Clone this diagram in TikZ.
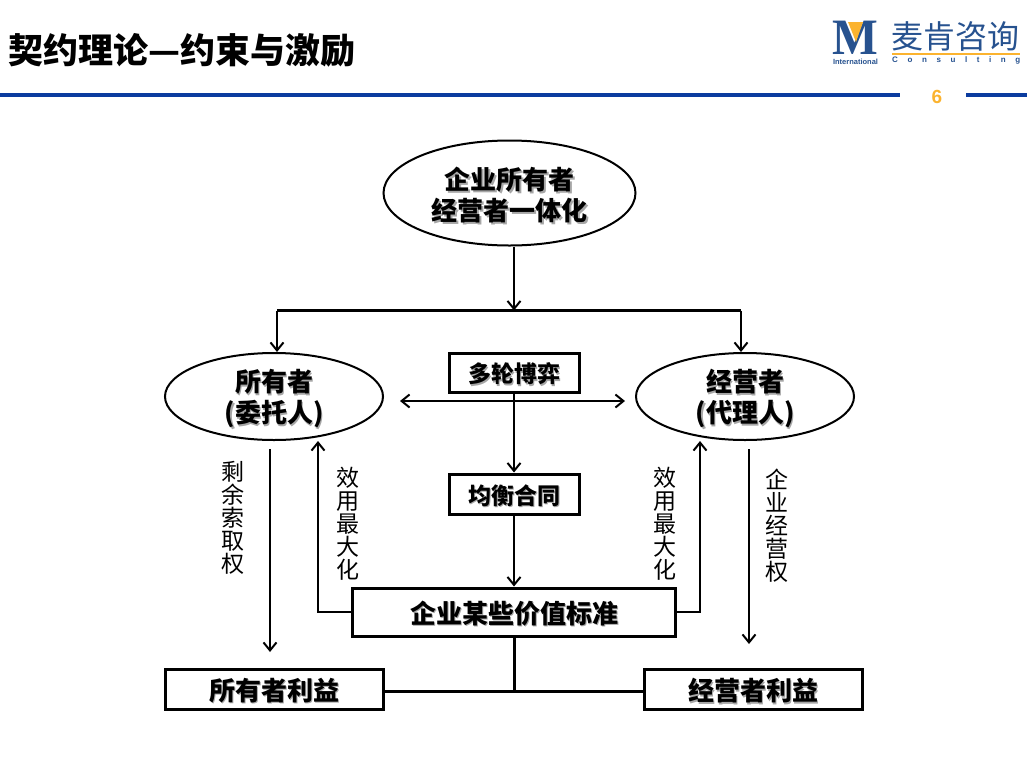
\documentclass[tikz,border=0pt]{standalone}
\usepackage{fontspec}
\usepackage{xcolor}
\setmainfont{Noto Sans CJK SC}
\newfontfamily\serifmark{Liberation Serif}
\newfontfamily\latinsans{Liberation Sans}
\usetikzlibrary{positioning}
\usetikzlibrary{calc}
\usetikzlibrary{arrows.meta}
\usetikzlibrary{shapes.geometric}

\definecolor{RuleBlue}{HTML}{0B3C9F}
\definecolor{LogoBlue}{HTML}{27528F}
\definecolor{LogoOrange}{HTML}{FBB32F}

\newcommand{\shadowed}[1]{\makebox[0pt][l]{\hspace{1.6pt}\raisebox{-1.6pt}{\textcolor{black!35}{#1}}}#1}
\newcommand{\ovalline}[1]{\vphantom{#1}\smash{\raisebox{-2pt}{\shadowed{#1}}}}
\newcommand{\boxline}[1]{\vphantom{#1}\smash{\raisebox{-1.5pt}{\shadowed{#1}}}}

\tikzset{
	ovalbox/.style={draw, ellipse, line width=2pt, inner sep=0pt, font=\fontsize{26}{31}\selectfont\bfseries, align=center},
	rectbox/.style={draw, rectangle, line width=3pt, inner sep=0pt, font=\fontsize{23}{27}\selectfont\bfseries},
	sidelabel/.style={inner sep=0pt, align=center, font=\fontsize{23}{23}\selectfont},
	link/.style={line width=2pt, -{Straight Barb[length=8pt,width=13pt]}},
	plainlink/.style={line width=3pt}
}

\begin{document}
\begin{tikzpicture}[x=1pt, y=-1pt]

\useasboundingbox (0,0) rectangle (1027,766);

% --- header

\node[
	anchor=west,
	inner sep=0pt,
	font=\fontsize{35}{40}\selectfont\bfseries
] (title) at (8,50) {契约理论—约束与激励};

\node[
	inner sep=0pt,
	text=LogoBlue,
	font=\fontsize{51}{51}\serifmark\bfseries
] (logoMark) at (855.5,38) {\scalebox{0.95}[1]{M}};

\fill[LogoOrange] (848,22) -- (863,22) -- (856,42) -- cycle;

\node[
	inner sep=0pt,
	text=LogoBlue,
	font=\fontsize{7.5}{8}\latinsans\bfseries
] (logoSmall) at (855.5,61.5) {International};

\node[
	anchor=west,
	inner sep=0pt,
	text=LogoBlue,
	font=\fontsize{32}{34}\selectfont
] (logoName) at (891,36) {麦肯咨询};

\node[
	anchor=west,
	inner sep=0pt,
	text=LogoBlue,
	font=\fontsize{8}{9}\latinsans\bfseries
] (logoWord) at (892,60.5) {\makebox[128pt][s]{C\hfill o\hfill n\hfill s\hfill u\hfill l\hfill t\hfill i\hfill n\hfill g}};

\draw[LogoOrange, line width=1.5pt] (892,54) -- (1020,54);

\node[
	inner sep=0pt,
	text=LogoOrange,
	font=\fontsize{19}{22}\latinsans\bfseries
] (pageNum) at (937,97) {6};

\draw[RuleBlue, line width=4pt] (0,95) -- (900,95);
\draw[RuleBlue, line width=4pt] (966,95) -- (1027,95);

% --- ovals and boxes

\node[
	ovalbox,
	minimum width=252pt,
	minimum height=105pt
] (wholeOwner) at (509.5,193) {\ovalline{企业所有者}\\\ovalline{经营者一体化}};

\node[
	rectbox,
	minimum width=130pt,
	minimum height=39pt,
	below=105pt of wholeOwner,
	xshift=4.5pt
] (gameBox) {\boxline{多轮博弈}};

\node[
	rectbox,
	minimum width=130pt,
	minimum height=40pt,
	below=79pt of gameBox
] (contractBox) {\boxline{均衡合同}};

\node[
	rectbox,
	minimum width=323pt,
	minimum height=48pt,
	below=71pt of contractBox,
	font=\fontsize{26}{31}\selectfont\bfseries
] (valueBox) {\boxline{企业某些价值标准}};

\node[
	ovalbox,
	minimum width=218pt,
	minimum height=87pt,
	left=63.5pt of gameBox,
	yshift=-24pt
] (owner) {\ovalline{所有者}\\\ovalline{(委托人)}};

\node[
	ovalbox,
	minimum width=218pt,
	minimum height=87pt,
	right=54.5pt of gameBox,
	yshift=-24pt
] (manager) {\ovalline{经营者}\\\ovalline{(代理人)}};

\node[
	rectbox,
	minimum width=218pt,
	minimum height=40pt,
	below=226.5pt of owner,
	font=\fontsize{26}{31}\selectfont\bfseries
] (ownerGain) {\boxline{所有者利益}};

\node[
	rectbox,
	minimum width=218pt,
	minimum height=40pt,
	below=226.5pt of manager,
	xshift=8pt,
	font=\fontsize{26}{31}\selectfont\bfseries
] (managerGain) {\boxline{经营者利益}};

% --- side labels

\node[sidelabel] (claimLabel) at (233,518) {剩\\余\\索\\取\\权};
\node[sidelabel] (utilLeft) at (348,524) {效\\用\\最\\大\\化};
\node[sidelabel] (utilRight) at (665,524) {效\\用\\最\\大\\化};
\node[sidelabel] (runLabel) at (777,526) {企\\业\\经\\营\\权};

% --- connectors

\coordinate[above=41pt of gameBox] (split);
\coordinate (ownerDrop) at ($(owner.north)+(3,0)$);
\coordinate (managerDrop) at ($(manager.north)+(-4,0)$);
\coordinate (meet) at ($(valueBox.south)+(0,54)$);

\draw[link] (wholeOwner.south -| split) -- (split);
\draw[plainlink] (split -| ownerDrop) -- (split -| managerDrop);
\draw[link] (split -| ownerDrop) -- (ownerDrop);
\draw[link] (split -| managerDrop) -- (managerDrop);

\coordinate (gameLeft) at (400,401);
\coordinate (gameRight) at (625,401);
\draw[line width=2pt, {Straight Barb[length=8pt,width=13pt]}-{Straight Barb[length=8pt,width=13pt]}] (gameLeft) -- (gameRight);

\draw[link] (gameBox.south) -- (contractBox.north);
\draw[link] (contractBox.south) -- (valueBox.north);

\coordinate (claimTop) at (270,449);
\coordinate (claimEnd) at (270,652);
\draw[link] (claimTop) -- (claimEnd);

\coordinate (utilLeftTop) at (318,441);
\draw[link] (valueBox.west) -| (utilLeftTop);

\coordinate (utilRightTop) at (700,441);
\draw[link] (valueBox.east) -| (utilRightTop);

\coordinate (runTop) at (749,449);
\coordinate (runEnd) at (749,644);
\draw[link] (runTop) -- (runEnd);

\draw[plainlink] (valueBox.south) -- (meet);
\draw[plainlink] (ownerGain.east |- meet) -- (managerGain.west |- meet);

\end{tikzpicture}
\end{document}
